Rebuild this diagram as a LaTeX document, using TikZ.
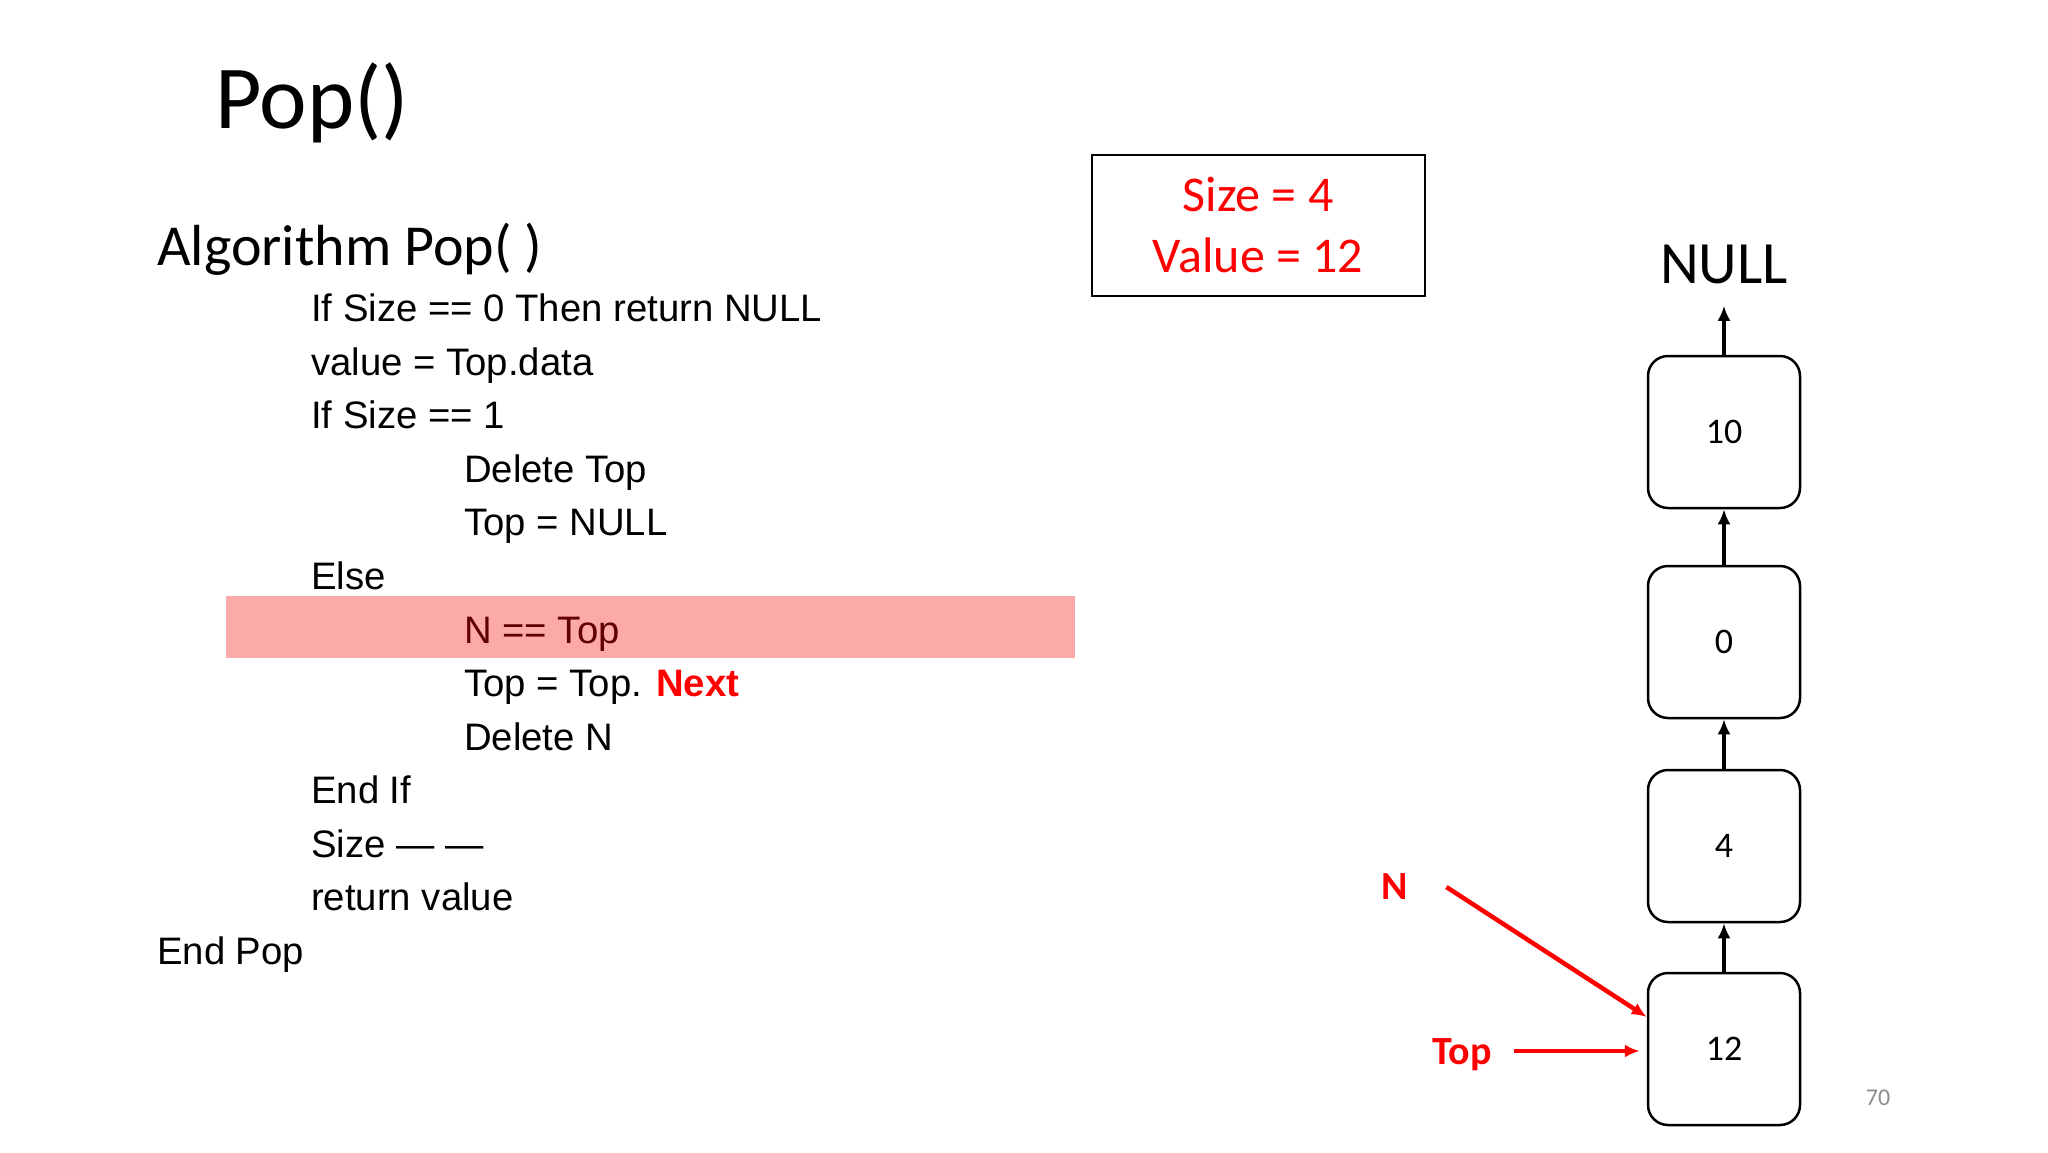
\documentclass[tikz,border=0pt]{standalone}
\usepackage{fontspec}
\setmainfont{Carlito}
\newfontfamily\arialfont{Liberation Sans}
\usetikzlibrary{positioning,arrows.meta}
\definecolor{slidered}{RGB}{255,0,0}
\definecolor{hilite}{RGB}{252,169,169}
\definecolor{darkred}{RGB}{96,0,0}
\definecolor{pagegray}{RGB}{140,140,140}

\begin{document}
\begin{tikzpicture}[x=1pt,y=-1pt,>={Latex[length=15pt,width=13pt]}]
	\tikzset{code/.style={anchor=base west,inner sep=0pt,font=\arialfont\fontsize{38.3}{46}\selectfont},
		cell/.style={draw,line width=2.5pt,rounded corners=20pt,minimum width=152pt,minimum height=152pt,font=\fontsize{36}{44}\selectfont},
		link/.style={line width=4pt,->},
		ptr/.style={line width=4.5pt,->,slidered},
		ptrlabel/.style={inner sep=0pt,text=slidered,font=\bfseries\fontsize{40}{48}\selectfont}}
	\useasboundingbox (0,0) rectangle (2048,1152);
	%Title
	\node[anchor=base west,inner sep=0pt,font=\fontsize{90}{100}\selectfont](title) at (215,128){Pop()};
	\node[anchor=base west,inner sep=0pt,font=\fontsize{58}{66}\selectfont](algo) at (157,265){Algorithm Pop( )};
	%Highlight
	\fill[hilite] (226,596) rectangle (1075,658);
	%Code
	\node[code](l1) at (311,321){If Size == 0 Then return NULL};
	\node[code](l2) at (311,375){value = Top.data};
	\node[code](l3) at (311,428){If Size == 1};
	\node[code](l4) at (464,482){Delete Top};
	\node[code](l5) at (464,535){Top = NULL};
	\node[code](l6) at (311,589){Else};
	\node[code,text=darkred](l7) at (464,643){N == Top};
	\node[code](l8) at (464,696){Top = Top. \textcolor{slidered}{\bfseries Next}};
	\node[code](l9) at (464,750){Delete N};
	\node[code](l10) at (311,803){End If};
	\node[code](l11) at (311,857){Size — —};
	\node[code](l12) at (311,910){return value};
	\node[code](l13) at (157,964){End Pop};
	%Status box
	\node[draw,line width=2pt,minimum width=333pt,minimum height=141pt,align=center,text=slidered,
		font=\fontsize{50}{61}\selectfont](stats) at (1258,225){Size = 4\\Value = 12};
	%Stack
	\node[cell](n12) at (1724,1049){12};
	\node[cell](n4)[above=48.5pt of n12]{4};
	\node[cell](n0)[above=49.5pt of n4]{0};
	\node[cell](n10)[above=55.5pt of n0]{10};
	\node[inner sep=0pt,font=\fontsize{60}{70}\selectfont](null)[above=71pt of n10]{NULL};
	\draw[link](n12)--(n4);
	\draw[link](n4)--(n0);
	\draw[link](n0)--(n10);
	\draw[link,shorten >=22pt](n10)--(null);
	%Pointers
	\node[ptrlabel](nlbl) at (1395,887){N};
	\node[ptrlabel](toplbl) at (1462,1055){Top};
	\draw[ptr]([xshift=38pt]nlbl.east)--([yshift=32pt]n12.west);
	\draw[ptr,shorten <=22pt,shorten >=7pt]([yshift=4pt]toplbl.east)--([yshift=4pt]toplbl.east -| n12.west);
	%Page number
	\node[text=pagegray,font=\fontsize{24}{28}\selectfont](page) at (1878,1098){70};
\end{tikzpicture}
\end{document}
